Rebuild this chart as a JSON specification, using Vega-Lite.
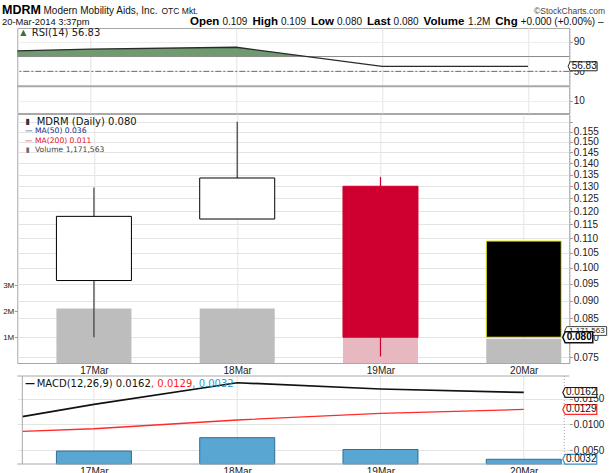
{
  "$schema": "https://vega.github.io/schema/vega-lite/v6.json",
  "background": "white",
  "autosize": {"type": "none"},
  "padding": {"left": 17.3, "top": 28, "right": 594.7, "bottom": 445},
  "config": {
    "view": {"stroke": "#a8a8a8"},
    "axis": {"labelFont": "Liberation Sans", "labelColor": "#222222", "labelFontSize": 10, "title": null, "tickColor": "#999999", "gridColor": "#e4e4e4", "domainColor": "#999999"}
  },
  "datasets": {
    "one": [{}],
    "candles": [
      {"date": 17, "open": 0.096, "high": 0.1295, "low": 0.080, "close": 0.118, "volume": 2100000, "trend": "up"},
      {"date": 18, "open": 0.117, "high": 0.160, "low": 0.117, "close": 0.1335, "volume": 2100000, "trend": "up"},
      {"date": 19, "open": 0.130, "high": 0.134, "low": 0.0752, "close": 0.080, "volume": 980000, "trend": "down"},
      {"date": 20, "open": 0.109, "high": 0.109, "low": 0.080, "close": 0.080, "volume": 935000, "trend": "flat"}
    ],
    "rsi": [
      {"date": 16.5, "rsi": 77.5},
      {"date": 17, "rsi": 80},
      {"date": 18, "rsi": 82.5},
      {"date": 19, "rsi": 56.83},
      {"date": 20, "rsi": 56.83}
    ],
    "rsiFill": [
      {"date": 16.5, "rsi": 77.5},
      {"date": 17, "rsi": 80},
      {"date": 18, "rsi": 82.5},
      {"date": 18.487, "rsi": 70}
    ],
    "macd": [
      {"date": 16.5, "macd": 0.01148, "signal": 0.00864, "hist": null},
      {"date": 17, "macd": 0.01389, "signal": 0.00914, "hist": 0.0048},
      {"date": 18, "macd": 0.01809, "signal": 0.01084, "hist": 0.0074},
      {"date": 19, "macd": 0.01687, "signal": 0.01214, "hist": 0.0051},
      {"date": 20, "macd": 0.0162, "signal": 0.0129, "hist": 0.0032}
    ]
  },
  "vconcat": [
    {
      "width": 552,
      "height": 85,
      "layer": [
        {
          "data": {"name": "rsiFill"},
          "mark": {"type": "area", "color": "#6f9b6f", "opacity": 1},
          "encoding": {
            "x": {"field": "date", "type": "quantitative", "scale": {"domain": [16.5, 20.283], "nice": false, "zero": false}, "axis": {"values": [17, 18, 19, 20], "labels": false, "ticks": false, "domain": false, "grid": true}},
            "y": {"field": "rsi", "type": "quantitative", "scale": {"domain": [-6.2, 108.5], "nice": false, "zero": false}, "axis": {"orient": "right", "values": [10, 20, 30, 40, 50, 60, 70, 80, 90, 100], "labelExpr": "datum.value % 20 == 10 ? datum.label : ''", "grid": true, "gridColor": "#eeeeee", "domainDash": [1, 2], "tickSize": 3, "labelPadding": 1}},
            "y2": {"datum": 70}
          }
        },
        {"data": {"name": "one"}, "mark": {"type": "rule", "color": "#8a8a8a", "strokeWidth": 1}, "encoding": {"y": {"datum": 70}}},
        {"data": {"name": "one"}, "mark": {"type": "rule", "color": "#a9a9a9", "strokeWidth": 2}, "encoding": {"y": {"datum": 30}}},
        {"data": {"name": "one"}, "mark": {"type": "rule", "color": "#6a6a6a", "strokeWidth": 1, "strokeDash": [6, 2, 2, 2]}, "encoding": {"y": {"datum": 50}}},
        {
          "data": {"name": "rsi"},
          "mark": {"type": "line", "color": "#2a2a2a", "strokeWidth": 1.3},
          "encoding": {"x": {"field": "date", "type": "quantitative"}, "y": {"field": "rsi", "type": "quantitative"}}
        },
        {"data": {"name": "one"}, "mark": {"type": "point", "shape": "M-1,0L-0.86,-0.31L1,-0.31L1,0.31L-0.86,0.31Z", "size": 841, "filled": true, "fill": "#ffffff", "stroke": "#222222", "strokeWidth": 1, "opacity": 1}, "encoding": {"x": {"datum": 20.374}, "y": {"datum": 56.83}}},
        {"data": {"name": "one"}, "mark": {"type": "text", "text": "56.83", "font": "Liberation Sans", "fontSize": 10, "align": "center", "baseline": "middle", "color": "#111111"}, "encoding": {"x": {"datum": 20.385}, "y": {"datum": 56.83}}},
        {"data": {"name": "one"}, "mark": {"type": "text", "text": "▲", "font": "DejaVu Sans", "fontSize": 8, "align": "left", "baseline": "middle", "dx": 3, "dy": 5.3, "color": "#3c6e3c"}, "encoding": {"x": {"datum": 16.5}, "y": {"datum": 108.5}}},
        {"data": {"name": "one"}, "mark": {"type": "text", "text": "RSI(14) 56.83", "font": "DejaVu Sans", "fontSize": 10, "align": "left", "baseline": "middle", "dx": 14.4, "dy": 5.3, "color": "#222222"}, "encoding": {"x": {"datum": 16.5}, "y": {"datum": 108.5}}},
        {"data": {"name": "one"}, "mark": {"type": "text", "text": "MDRM", "font": "Liberation Sans", "fontWeight": "bold", "fontSize": 12.5, "align": "left", "baseline": "alphabetic", "dx": -15.3, "dy": -14, "color": "#000000"}, "encoding": {"x": {"datum": 16.5}, "y": {"datum": 108.5}}},
        {"data": {"name": "one"}, "mark": {"type": "text", "text": "Modern Mobility Aids, Inc.", "font": "Liberation Sans", "fontSize": 10, "align": "left", "baseline": "alphabetic", "dx": 26.2, "dy": -14, "color": "#111111"}, "encoding": {"x": {"datum": 16.5}, "y": {"datum": 108.5}}},
        {"data": {"name": "one"}, "mark": {"type": "text", "text": "OTC Mkt.", "font": "Liberation Sans", "fontSize": 8.5, "align": "left", "baseline": "alphabetic", "dx": 144.2, "dy": -14, "color": "#111111"}, "encoding": {"x": {"datum": 16.5}, "y": {"datum": 108.5}}},
        {"data": {"name": "one"}, "mark": {"type": "text", "text": "©StockCharts.com", "font": "Liberation Sans", "fontSize": 8.5, "align": "right", "baseline": "alphabetic", "dx": 35.7, "dy": -14, "color": "#444444"}, "encoding": {"x": {"datum": 20.283}, "y": {"datum": 108.5}}},
        {"data": {"name": "one"}, "mark": {"type": "text", "text": "20-Mar-2014 3:37pm", "font": "Liberation Sans", "fontSize": 9.4, "align": "left", "baseline": "alphabetic", "dx": -15.3, "dy": -3, "color": "#111111"}, "encoding": {"x": {"datum": 16.5}, "y": {"datum": 108.5}}},
        {"data": {"name": "one"}, "mark": {"type": "text", "text": "Open", "font": "Liberation Sans", "fontWeight": "bold", "fontSize": 11.5, "align": "left", "baseline": "alphabetic", "dx": 172.7, "dy": -3, "color": "#000000"}, "encoding": {"x": {"datum": 16.5}, "y": {"datum": 108.5}}},
        {"data": {"name": "one"}, "mark": {"type": "text", "text": "0.109", "font": "Liberation Sans", "fontSize": 10, "align": "left", "baseline": "alphabetic", "dx": 205.1, "dy": -3, "color": "#111111"}, "encoding": {"x": {"datum": 16.5}, "y": {"datum": 108.5}}},
        {"data": {"name": "one"}, "mark": {"type": "text", "text": "High", "font": "Liberation Sans", "fontWeight": "bold", "fontSize": 11.5, "align": "left", "baseline": "alphabetic", "dx": 235.1, "dy": -3, "color": "#000000"}, "encoding": {"x": {"datum": 16.5}, "y": {"datum": 108.5}}},
        {"data": {"name": "one"}, "mark": {"type": "text", "text": "0.109", "font": "Liberation Sans", "fontSize": 10, "align": "left", "baseline": "alphabetic", "dx": 263.7, "dy": -3, "color": "#111111"}, "encoding": {"x": {"datum": 16.5}, "y": {"datum": 108.5}}},
        {"data": {"name": "one"}, "mark": {"type": "text", "text": "Low", "font": "Liberation Sans", "fontWeight": "bold", "fontSize": 11.5, "align": "left", "baseline": "alphabetic", "dx": 293.7, "dy": -3, "color": "#000000"}, "encoding": {"x": {"datum": 16.5}, "y": {"datum": 108.5}}},
        {"data": {"name": "one"}, "mark": {"type": "text", "text": "0.080", "font": "Liberation Sans", "fontSize": 10, "align": "left", "baseline": "alphabetic", "dx": 319.7, "dy": -3, "color": "#111111"}, "encoding": {"x": {"datum": 16.5}, "y": {"datum": 108.5}}},
        {"data": {"name": "one"}, "mark": {"type": "text", "text": "Last", "font": "Liberation Sans", "fontWeight": "bold", "fontSize": 11.5, "align": "left", "baseline": "alphabetic", "dx": 349.7, "dy": -3, "color": "#000000"}, "encoding": {"x": {"datum": 16.5}, "y": {"datum": 108.5}}},
        {"data": {"name": "one"}, "mark": {"type": "text", "text": "0.080", "font": "Liberation Sans", "fontSize": 10, "align": "left", "baseline": "alphabetic", "dx": 376.3, "dy": -3, "color": "#111111"}, "encoding": {"x": {"datum": 16.5}, "y": {"datum": 108.5}}},
        {"data": {"name": "one"}, "mark": {"type": "text", "text": "Volume", "font": "Liberation Sans", "fontWeight": "bold", "fontSize": 11.5, "align": "left", "baseline": "alphabetic", "dx": 406.3, "dy": -3, "color": "#000000"}, "encoding": {"x": {"datum": 16.5}, "y": {"datum": 108.5}}},
        {"data": {"name": "one"}, "mark": {"type": "text", "text": "1.2M", "font": "Liberation Sans", "fontSize": 10, "align": "left", "baseline": "alphabetic", "dx": 450.8, "dy": -3, "color": "#111111"}, "encoding": {"x": {"datum": 16.5}, "y": {"datum": 108.5}}},
        {"data": {"name": "one"}, "mark": {"type": "text", "text": "Chg", "font": "Liberation Sans", "fontWeight": "bold", "fontSize": 11.5, "align": "left", "baseline": "alphabetic", "dx": 478.0, "dy": -3, "color": "#000000"}, "encoding": {"x": {"datum": 16.5}, "y": {"datum": 108.5}}},
        {"data": {"name": "one"}, "mark": {"type": "text", "text": "+0.000 (+0.00%) –", "font": "Liberation Sans", "fontSize": 10, "align": "left", "baseline": "alphabetic", "dx": 503.4, "dy": -3, "color": "#111111"}, "encoding": {"x": {"datum": 16.5}, "y": {"datum": 108.5}}}
      ]
    },
    {
      "width": 552,
      "height": 249,
      "data": {"name": "candles"},
      "layer": [
        {
          "mark": {"type": "bar", "width": 75},
          "encoding": {
            "x": {"field": "date", "type": "quantitative", "scale": {"domain": [16.5, 20.283], "nice": false, "zero": false}, "axis": {"values": [17, 18, 19, 20], "labelExpr": "datum.value + 'Mar'", "ticks": false, "domain": false, "grid": true, "labelPadding": 2, "labelFontSize": 10}},
            "y": {"field": "volume", "type": "quantitative", "scale": {"domain": [0, 9580000], "nice": false}, "axis": {"orient": "left", "values": [1000000, 2000000, 3000000], "labelExpr": "(datum.value / 1000000) + 'M'", "grid": false, "domain": false, "tickSize": 3, "labelPadding": 0.5, "labelFontSize": 8}},
            "color": {"condition": {"test": "datum.trend == 'down'", "value": "#e7b8c0"}, "value": "#bdbdbd"}
          }
        },
        {
          "layer": [
            {
              "mark": {"type": "rule", "strokeWidth": 1.2},
              "encoding": {
                "x": {"field": "date", "type": "quantitative"},
                "y": {"field": "low", "type": "quantitative", "scale": {"type": "log", "domain": [0.07364, 0.164], "nice": false}, "axis": {"orient": "right", "values": [0.075, 0.080, 0.085, 0.090, 0.095, 0.100, 0.105, 0.110, 0.115, 0.120, 0.125, 0.130, 0.135, 0.140, 0.145, 0.150, 0.155, 0.160], "format": ".3f", "grid": true, "domainDash": [1, 2], "tickSize": 3, "labelPadding": 1}},
                "y2": {"field": "high"},
                "color": {"condition": {"test": "datum.trend == 'down'", "value": "#cf0030"}, "value": "#3a3a3a"}
              }
            },
            {
              "mark": {"type": "bar", "width": 75, "strokeWidth": 1},
              "encoding": {
                "x": {"field": "date", "type": "quantitative"},
                "y": {"field": "open", "type": "quantitative"},
                "y2": {"field": "close"},
                "fill": {"condition": [{"test": "datum.trend == 'down'", "value": "#cf0030"}, {"test": "datum.trend == 'flat'", "value": "#000000"}], "value": "#ffffff"},
                "stroke": {"condition": [{"test": "datum.trend == 'down'", "value": "#cf0030"}, {"test": "datum.trend == 'flat'", "value": "#eeee00"}], "value": "#000000"}
              }
            },
            {"data": {"name": "one"}, "mark": {"type": "point", "shape": "M-1,0L-0.9,-0.21L1,-0.21L1,0.21L-0.9,0.21Z", "size": 1764, "filled": true, "fill": "#ffffff", "stroke": "#444444", "strokeWidth": 1, "opacity": 1}, "encoding": {"x": {"datum": 20.432}, "y": {"datum": 0.08162}}},
            {"data": {"name": "one"}, "mark": {"type": "text", "text": "1,171,563", "font": "Liberation Sans", "fontSize": 8, "align": "center", "baseline": "middle", "color": "#222222"}, "encoding": {"x": {"datum": 20.44}, "y": {"datum": 0.08162}}},
            {"data": {"name": "one"}, "mark": {"type": "point", "shape": "M-1,0L-0.84,-0.37L1,-0.37L1,0.37L-0.84,0.37Z", "size": 900, "filled": true, "fill": "#ffffff", "stroke": "#111111", "strokeWidth": 1.5, "opacity": 1}, "encoding": {"x": {"datum": 20.377}, "y": {"datum": 0.080}}},
            {"data": {"name": "one"}, "mark": {"type": "text", "text": "0.080", "font": "Liberation Sans", "fontWeight": "bold", "fontSize": 10, "align": "center", "baseline": "middle", "color": "#000000"}, "encoding": {"x": {"datum": 20.387}, "y": {"datum": 0.080}}},
            {"data": {"name": "one"}, "mark": {"type": "text", "text": "▮", "font": "DejaVu Sans", "fontSize": 8, "align": "left", "baseline": "middle", "dx": 3, "dy": 7.7, "color": "#333333"}, "encoding": {"x": {"datum": 16.5}, "y": {"datum": 0.164}}},
            {"data": {"name": "one"}, "mark": {"type": "text", "text": "MDRM (Daily) 0.080", "font": "DejaVu Sans", "fontSize": 10, "align": "left", "baseline": "middle", "dx": 14.4, "dy": 7.7, "color": "#111111"}, "encoding": {"x": {"datum": 16.5}, "y": {"datum": 0.164}}},
            {"data": {"name": "one"}, "mark": {"type": "text", "text": "— MA(50) 0.036", "font": "DejaVu Sans", "fontSize": 7.6, "align": "left", "baseline": "middle", "dx": 2.7, "dy": 17, "color": "#1c2a8c"}, "encoding": {"x": {"datum": 16.5}, "y": {"datum": 0.164}}},
            {"data": {"name": "one"}, "mark": {"type": "text", "text": "— MA(200) 0.011", "font": "DejaVu Sans", "fontSize": 7.6, "align": "left", "baseline": "middle", "dx": 2.7, "dy": 27.3, "color": "#e8102a"}, "encoding": {"x": {"datum": 16.5}, "y": {"datum": 0.164}}},
            {"data": {"name": "one"}, "mark": {"type": "text", "text": "▮", "font": "DejaVu Sans", "fontSize": 7, "align": "left", "baseline": "middle", "dx": 3.5, "dy": 36.3, "color": "#666666"}, "encoding": {"x": {"datum": 16.5}, "y": {"datum": 0.164}}},
            {"data": {"name": "one"}, "mark": {"type": "text", "text": "Volume 1,171,563", "font": "DejaVu Sans", "fontSize": 7.6, "align": "left", "baseline": "middle", "dx": 12.7, "dy": 36.3, "color": "#444444"}, "encoding": {"x": {"datum": 16.5}, "y": {"datum": 0.164}}}
          ]
        }
      ],
      "resolve": {"scale": {"y": "independent"}}
    },
    {
      "width": 552,
      "height": 100,
      "view": {"stroke": null},
      "data": {"name": "macd"},
      "layer": [
        {
          "data": {"name": "candles"},
          "mark": {"type": "rule", "color": "#e4e4e4", "strokeWidth": 1},
          "encoding": {
            "x": {"field": "date", "type": "quantitative", "scale": {"domain": [16.5, 20.283], "nice": false, "zero": false}, "axis": {"values": [17, 18, 19, 20], "labelExpr": "datum.value + 'Mar'", "ticks": false, "domain": false, "grid": false, "labelPadding": 2, "labelFontSize": 10}},
            "y": {"datum": 0.00228, "type": "quantitative", "scale": {"domain": [0.00228, 0.021735], "nice": false, "zero": false}, "axis": {"orient": "right", "values": [0.005, 0.0075, 0.01, 0.0125, 0.015, 0.0175], "format": ".4f", "grid": true, "domain": false, "tickSize": 3, "labelPadding": 1}},
            "y2": {"datum": 0.0194}
          }
        },
        {
          "mark": {"type": "bar", "width": 75, "color": "#59a6d2", "stroke": "#2f6f98", "strokeWidth": 1},
          "encoding": {
            "x": {"field": "date", "type": "quantitative"},
            "y": {"field": "hist", "type": "quantitative"},
            "y2": {"datum": 0.00228}
          }
        },
        {
          "mark": {"type": "line", "color": "#ff2a2a", "strokeWidth": 1.3},
          "encoding": {"x": {"field": "date", "type": "quantitative"}, "y": {"field": "signal", "type": "quantitative"}}
        },
        {
          "mark": {"type": "line", "color": "#111111", "strokeWidth": 1.7},
          "encoding": {"x": {"field": "date", "type": "quantitative"}, "y": {"field": "macd", "type": "quantitative"}}
        },
        {"data": {"name": "one"}, "mark": {"type": "rule", "color": "#a8a8a8", "strokeWidth": 1}, "encoding": {"y": {"datum": 0.0194}}},
        {"data": {"name": "one"}, "mark": {"type": "rule", "color": "#a8a8a8", "strokeWidth": 1}, "encoding": {"y": {"datum": 0.00228}}},
        {"data": {"name": "one"}, "mark": {"type": "rule", "color": "#a8a8a8", "strokeWidth": 1}, "encoding": {"x": {"datum": 16.5}, "y": {"datum": 0.00228}, "y2": {"datum": 0.0194}}},
        {"data": {"name": "one"}, "mark": {"type": "rule", "color": "#a8a8a8", "strokeWidth": 1, "strokeDash": [1, 2]}, "encoding": {"x": {"datum": 20.283}, "y": {"datum": 0.00228}, "y2": {"datum": 0.0194}}},
        {"data": {"name": "one"}, "mark": {"type": "point", "shape": "M-1,0L-0.86,-0.29L1,-0.29L1,0.29L-0.86,0.29Z", "size": 1156, "filled": true, "fill": "#ffffff", "stroke": "#222222", "strokeWidth": 1.2, "opacity": 1}, "encoding": {"x": {"datum": 20.391}, "y": {"datum": 0.0162}}},
        {"data": {"name": "one"}, "mark": {"type": "text", "text": "0.0162", "font": "Liberation Sans", "fontSize": 10, "align": "center", "baseline": "middle", "color": "#111111"}, "encoding": {"x": {"datum": 20.401}, "y": {"datum": 0.0162}}},
        {"data": {"name": "one"}, "mark": {"type": "point", "shape": "M-1,0L-0.86,-0.29L1,-0.29L1,0.29L-0.86,0.29Z", "size": 1156, "filled": true, "fill": "#ffffff", "stroke": "#ff2a2a", "strokeWidth": 1.2, "opacity": 1}, "encoding": {"x": {"datum": 20.391}, "y": {"datum": 0.0129}}},
        {"data": {"name": "one"}, "mark": {"type": "text", "text": "0.0129", "font": "Liberation Sans", "fontSize": 10, "align": "center", "baseline": "middle", "color": "#111111"}, "encoding": {"x": {"datum": 20.401}, "y": {"datum": 0.0129}}},
        {"data": {"name": "one"}, "mark": {"type": "point", "shape": "M-1,0L-0.86,-0.29L1,-0.29L1,0.29L-0.86,0.29Z", "size": 1156, "filled": true, "fill": "#ffffff", "stroke": "#3a8fc4", "strokeWidth": 1.2, "opacity": 1}, "encoding": {"x": {"datum": 20.391}, "y": {"datum": 0.0032}}},
        {"data": {"name": "one"}, "mark": {"type": "text", "text": "0.0032", "font": "Liberation Sans", "fontSize": 10, "align": "center", "baseline": "middle", "color": "#111111"}, "encoding": {"x": {"datum": 20.401}, "y": {"datum": 0.0032}}},
        {"data": {"name": "one"}, "mark": {"type": "text", "text": "—", "font": "DejaVu Sans", "fontSize": 10, "fontWeight": "bold", "align": "left", "baseline": "middle", "dx": 2.7, "dy": 7.7, "color": "#111111"}, "encoding": {"x": {"datum": 16.5}, "y": {"datum": 0.0194}}},
        {"data": {"name": "one"}, "mark": {"type": "text", "text": "MACD(12,26,9) 0.0162", "font": "DejaVu Sans", "fontSize": 10, "align": "left", "baseline": "middle", "dx": 14.4, "dy": 7.7, "color": "#111111"}, "encoding": {"x": {"datum": 16.5}, "y": {"datum": 0.0194}}},
        {"data": {"name": "one"}, "mark": {"type": "text", "text": ", 0.0129", "font": "DejaVu Sans", "fontSize": 10, "align": "left", "baseline": "middle", "dx": 128.7, "dy": 7.7, "color": "#ff1a1a"}, "encoding": {"x": {"datum": 16.5}, "y": {"datum": 0.0194}}},
        {"data": {"name": "one"}, "mark": {"type": "text", "text": ", 0.0032", "font": "DejaVu Sans", "fontSize": 10, "align": "left", "baseline": "middle", "dx": 170.0, "dy": 7.7, "color": "#2e9fd8"}, "encoding": {"x": {"datum": 16.5}, "y": {"datum": 0.0194}}}
      ]
    }
  ],
  "spacing": 1,
  "bounds": "flush",
  "resolve": {"scale": {"x": "independent", "y": "independent"}}
}
